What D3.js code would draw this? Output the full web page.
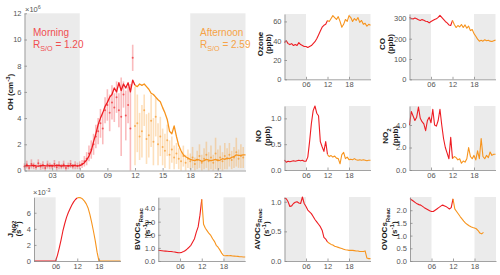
<!DOCTYPE html>
<html><head><meta charset="utf-8">
<script src="https://cdn.jsdelivr.net/npm/d3@7"></script>
<style>
body{margin:0;background:#fff}
svg{display:block}
</style></head><body>
<svg id="c" width="500" height="275"></svg>
<script>
// ---------------- DATA ----------------
const nightBands = [[0, 6], [18, 24]];
const mainXTicks = [3, 6, 9, 12, 15, 18, 21];
const smallXTicks = [6, 12, 18];

// OH smoothed line, every 0.25 h from 0 to 24 (x1e6 cm-3)
const ohLine = [
  0.36,0.38,0.35,0.37,0.40,0.36,0.34,0.37,0.39,0.36,0.35,0.38,0.37,0.36,0.40,0.38,0.36,0.37,0.35,0.38,0.36,0.39,0.37,0.36,0.38,
  0.45,0.60,0.80,1.10,1.50,2.20,2.80,3.50,4.00,4.40,4.90,5.20,5.60,5.80,6.30,6.00,6.70,6.10,6.60,6.30,6.70,6.00,6.90,6.50,
  6.40,6.60,6.50,6.60,6.40,6.20,5.90,5.80,5.60,5.40,5.25,4.80,4.40,3.90,3.00,2.80,3.40,2.60,1.90,1.50,1.20,1.05,0.95,0.85,
  0.80,0.75,0.85,0.80,0.70,0.75,0.85,0.80,0.75,0.80,0.85,0.75,0.80,0.90,0.85,0.95,0.90,1.00,1.05,1.20,1.15,1.15,1.20,1.20
];
// OH observations (points with error bars), every 0.25 h
const ohMorningPts = [
  0.30,0.45,0.20,0.50,0.35,0.25,0.55,0.30,0.40,0.20,0.45,0.35,0.30,0.50,0.25,0.40,0.30,0.45,0.20,0.35,0.50,0.30,0.40,0.35,
  0.40,0.50,0.70,0.90,1.30,1.60,2.00,2.60,3.00,3.60,3.20,4.60,5.00,4.40,5.20,4.80,5.60,4.60,4.10,5.80,4.20,5.00,3.20,8.60
];
const ohMorningErr = [
  0.25,0.30,0.20,0.35,0.25,0.20,0.30,0.25,0.30,0.20,0.30,0.25,0.20,0.30,0.25,0.30,0.20,0.30,0.20,0.25,0.30,0.20,0.30,0.25,
  0.30,0.30,0.40,0.50,0.60,0.70,0.80,0.90,1.00,1.10,1.20,1.00,1.20,1.40,1.30,1.10,1.20,1.30,3.00,1.00,1.90,1.40,3.40,1.00
];
const ohAfternoonPts = [
  3.40,3.60,2.60,3.00,4.60,2.40,2.70,3.80,2.20,4.10,2.00,2.60,1.80,1.50,2.30,1.20,1.60,1.00,1.30,0.90,0.70,1.10,0.60,0.90,
  0.70,1.00,0.50,0.80,1.10,0.60,0.90,1.20,0.70,1.00,0.60,1.30,0.80,1.00,0.70,1.10,0.90,1.20,0.80,1.00,1.40,0.90,1.10,1.00
];
const ohAfternoonErr = [
  3.00,2.20,1.80,2.00,1.20,1.90,1.70,2.00,1.80,1.50,1.60,1.50,1.40,1.30,1.20,1.10,1.00,0.90,0.80,0.80,0.70,0.80,0.60,0.70,
  0.60,0.80,0.50,0.70,0.90,0.60,0.80,1.00,0.70,0.90,0.60,1.20,0.80,0.90,0.70,1.00,0.80,0.90,0.70,0.80,1.10,0.70,0.90,0.80
];

// small panels, every 0.5 h from 0 to 24
const ozone = [38,40,37,36,37,35,36,35,38,36,35,34, 34,33,34,35,37,39,42,46,50,54,56,57,
  61,60,63,66,64,62,65,60,54,57,62,60, 66,64,60,63,61,64,59,61,57,58,55,57, 56];
const co = [305,300,297,302,298,293,290,294,291,286,285,278, 285,290,295,298,305,315,305,295,285,278,268,265,
  290,270,255,265,258,270,255,268,252,262,240,245, 225,212,198,188,192,188,195,190,192,188,186,190, 193];
const no = [0.19,0.15,0.17,0.16,0.17,0.18,0.17,0.18,0.19,0.18,0.19,0.17, 0.17,0.25,0.55,0.90,1.15,1.24,1.10,1.05,0.55,0.45,0.36,0.55,
  0.30,0.26,0.28,0.25,0.27,0.23,0.22,0.12,0.30,0.34,0.22,0.25, 0.20,0.21,0.20,0.22,0.20,0.19,0.20,0.19,0.20,0.19,0.18,0.19, 0.19];
const no2 = [4.0,5.2,4.8,4.4,4.7,5.6,4.6,4.3,4.1,3.5,4.4,4.7, 4.2,5.4,4.0,3.9,4.4,5.4,4.0,2.8,2.0,1.5,1.0,2.9,
  1.0,1.2,1.1,0.9,1.0,0.6,0.8,0.7,1.0,2.0,1.2,1.0, 1.3,0.9,1.7,1.0,2.8,1.2,1.0,1.3,1.1,1.6,1.3,1.4, 1.4];
const jno2 = [0,0,0,0,0,0,0,0,0,0,0,0, 0,0.7,1.6,2.6,3.7,4.6,5.4,6.0,6.5,6.95,7.35,7.65,
  7.85,7.9,7.85,7.7,7.45,7.1,6.6,5.8,4.8,3.7,2.5,1.1, 0.05,0,0,0,0,0,0,0,0,0,0,0, 0];
const bvoc = [0.82,0.80,0.78,0.76,0.75,0.74,0.73,0.72,0.70,0.69,0.66,0.64, 0.63,0.66,0.72,0.80,0.92,1.05,1.20,1.45,1.70,2.20,2.60,3.50,
  4.70,2.80,2.50,2.30,2.10,1.95,1.70,1.50,1.20,1.05,0.85,0.60, 0.42,0.40,0.42,0.40,0.41,0.38,0.37,0.36,0.35,0.33,0.32,0.31, 0.30];
const avoc = [1.06,1.05,1.00,0.92,0.93,0.97,0.99,1.00,0.98,0.97,1.08,0.97, 0.92,0.86,0.83,0.80,0.75,0.70,0.66,0.62,0.58,0.52,0.40,0.37,
  0.32,0.30,0.28,0.27,0.25,0.24,0.23,0.22,0.21,0.20,0.19,0.185, 0.18,0.18,0.18,0.175,0.17,0.17,0.16,0.16,0.16,0.17,0.05,0.04, 0.04];
const ovoc = [2.46,2.40,2.35,2.30,2.25,2.22,2.20,2.15,2.10,2.06,2.02,1.98, 1.95,1.95,2.00,2.05,2.10,2.15,2.20,2.18,2.15,2.10,2.05,2.10,
  2.45,2.05,1.95,1.85,1.75,1.66,1.57,1.49,1.44,1.39,1.35,1.32, 1.30,1.27,1.20,1.10,1.07,1.13,null,null,null,null,null,null, null];

// ---------------- DRAWING ----------------
const ohT = d3.range(0, 24.001, 0.25);
const amT = d3.range(0, 12, 0.25);
const pmT = d3.range(12, 24, 0.25);
const smT = d3.range(0, 24.001, 0.5);

const RED = "#ee1d23", ORANGE = "#f7941d";
const FONT = '"Liberation Sans", Arial, sans-serif';
const svg = d3.select("#c");

function makePanel(o) {
  const x = d3.scaleLinear().domain([0, 24]).range([o.l, o.r]);
  const y = d3.scaleLinear().domain([0, o.max]).range([o.b, o.t]);
  const g = svg.append("g");
  g.selectAll("rect").data(nightBands).join("rect")
    .attr("x", d => x(d[0])).attr("y", o.t)
    .attr("width", d => x(d[1]) - x(d[0])).attr("height", o.b - o.t)
    .attr("fill", "#ebebeb");
  const content = g.append("g");
  const ax = g.append("g");
  ax.append("g").attr("transform", `translate(0,${o.b})`)
    .call(d3.axisBottom(x).tickValues(o.xt).tickFormat(d3.format("02d"))
      .tickSizeInner(-2.5).tickSizeOuter(0).tickPadding(2.5));
  ax.append("g").attr("transform", `translate(${o.l},0)`)
    .call(d3.axisLeft(y).tickValues(o.yt).tickSizeInner(-2.5).tickSizeOuter(0).tickPadding(3));
  ax.selectAll(".domain,.tick line").attr("stroke", "#8a8a8a").attr("stroke-width", 0.8);
  ax.selectAll("text").attr("fill", "#555").attr("font-size", 7.5).attr("font-family", FONT);
  return { g: content, x, y };
}

function drawSeries(p, times, vals, width) {
  const pts = times.map((t, i) => [t, vals[i]]).filter(d => d[1] != null);
  const line = d3.line().x(d => p.x(d[0])).y(d => p.y(d[1]));
  p.g.append("path").attr("d", line(pts.filter(d => d[0] <= 12)))
    .attr("fill", "none").attr("stroke", RED).attr("stroke-width", width || 1.1).attr("stroke-linejoin", "round");
  p.g.append("path").attr("d", line(pts.filter(d => d[0] >= 12)))
    .attr("fill", "none").attr("stroke", ORANGE).attr("stroke-width", width || 1.1).attr("stroke-linejoin", "round");
}

function addLabel(x, y, parts) {
  const t = svg.append("text").attr("transform", `translate(${x},${y}) rotate(-90)`)
    .attr("text-anchor", "middle").attr("font-family", FONT).attr("font-size", 8)
    .attr("font-weight", "bold").attr("fill", "#1a1a1a");
  let shift = 0;
  parts.forEach(pt => {
    const ts = t.append("tspan").text(pt.t);
    const target = pt.s === "sub" ? 2.5 : pt.s === "sup" ? -3 : 0;
    ts.attr("dy", target - shift); shift = target;
    if (pt.s) ts.attr("font-size", 6);
  });
}
function addText(x, y, parts, size, color, weight) {
  const t = svg.append("text").attr("x", x).attr("y", y).attr("font-family", FONT)
    .attr("font-size", size).attr("fill", color).attr("font-weight", weight || "normal");
  let shift = 0;
  parts.forEach(pt => {
    const ts = t.append("tspan").text(pt.t);
    const target = pt.s === "sub" ? size * 0.3 : pt.s === "sup" ? -size * 0.4 : 0;
    ts.attr("dy", target - shift); shift = target;
    if (pt.s) ts.attr("font-size", size * 0.72);
  });
}

// ---- main OH panel ----
const main = makePanel({ l: 24.5, r: 245.5, t: 13.3, b: 170.5, max: 12, xt: mainXTicks, yt: [0, 2, 4, 6, 8, 10, 12] });
function drawObs(times, vals, errs, color) {
  const data = times.map((t, i) => ({ t, v: vals[i], e: errs[i] }));
  main.g.append("g").selectAll("line").data(data).join("line")
    .attr("x1", d => main.x(d.t)).attr("x2", d => main.x(d.t))
    .attr("y1", d => main.y(Math.max(0, d.v - d.e))).attr("y2", d => main.y(Math.min(12, d.v + d.e)))
    .attr("stroke", color).attr("stroke-opacity", 0.3).attr("stroke-width", 1.6);
  main.g.append("g").selectAll("circle").data(data).join("circle")
    .attr("cx", d => main.x(d.t)).attr("cy", d => main.y(d.v)).attr("r", 1)
    .attr("fill", color).attr("fill-opacity", 0.65);
}
drawObs(amT, ohMorningPts, ohMorningErr, RED);
drawObs(pmT, ohAfternoonPts, ohAfternoonErr, ORANGE);
drawSeries(main, ohT, ohLine, 1.3);
addText(33, 36, [{ t: "Morning" }], 10, "#f04e50");
addText(33, 48, [{ t: "R" }, { t: "S/O", s: "sub" }, { t: " = 1.20" }], 10, "#f04e50");
addText(200, 36, [{ t: "Afternoon" }], 10, "#f6a347");
addText(200, 48, [{ t: "R" }, { t: "S/O", s: "sub" }, { t: " = 2.59" }], 10, "#f6a347");
addText(25, 11.5, [{ t: "×10" }, { t: "6", s: "sup" }], 7.5, "#555");
addLabel(13, 92, [{ t: "OH (cm" }, { t: "-3", s: "sup" }, { t: ")" }]);

// ---- small panels ----
const pOz = makePanel({ l: 284.5, r: 370.5, t: 14, b: 79.3, max: 67.7, xt: smallXTicks, yt: [0, 20, 40, 60] });
drawSeries(pOz, smT, ozone);
addLabel(262.5, 44, [{ t: "Ozone" }]); addLabel(271, 44, [{ t: "(ppb)" }]);

const pCo = makePanel({ l: 409.5, r: 495.5, t: 14, b: 79.3, max: 321.7, xt: smallXTicks, yt: [0, 100, 200, 300] });
drawSeries(pCo, smT, co);
addLabel(385, 44, [{ t: "CO" }]); addLabel(393, 44, [{ t: "(ppb)" }]);

const pNo = makePanel({ l: 284.5, r: 370.5, t: 106, b: 170, max: 1.24, xt: smallXTicks, yt: [0, 0.5, 1] });
drawSeries(pNo, smT, no);
addLabel(261, 136, [{ t: "NO" }]); addLabel(270, 136, [{ t: "(ppb)" }]);

const pNo2 = makePanel({ l: 409.5, r: 495.5, t: 106, b: 170, max: 5.69, xt: smallXTicks, yt: [0, 2, 4] });
drawSeries(pNo2, smT, no2);
addLabel(388, 136, [{ t: "NO" }, { t: "2", s: "sub" }]); addLabel(398, 136, [{ t: "(ppb)" }]);

const pJ = makePanel({ l: 34, r: 120.5, t: 197.3, b: 261, max: 7.92, xt: smallXTicks, yt: [0, 2, 4, 6] });
drawSeries(pJ, smT, jno2);
addText(33, 195, [{ t: "×10" }, { t: "-3", s: "sup" }], 7.5, "#555");
addLabel(13, 229, [{ t: "J" }, { t: "NO2", s: "sub" }]); addLabel(21, 229, [{ t: "(s" }, { t: "-1", s: "sup" }, { t: ")" }]);

const pB = makePanel({ l: 158.3, r: 245.2, t: 197.3, b: 261, max: 4.86, xt: smallXTicks, yt: [0, 1, 2, 3, 4] });
drawSeries(pB, smT, bvoc);
addLabel(140, 229, [{ t: "BVOCs" }, { t: "Reac", s: "sub" }]); addLabel(149.5, 229, [{ t: "(s" }, { t: "-1", s: "sup" }, { t: ")" }]);

const pA = makePanel({ l: 284.5, r: 370.5, t: 197, b: 261, max: 1.08, xt: smallXTicks, yt: [0, 0.5, 1] });
drawSeries(pA, smT, avoc);
addLabel(259.5, 229, [{ t: "AVOCs" }, { t: "Reac", s: "sub" }]); addLabel(268.5, 229, [{ t: "(s" }, { t: "-1", s: "sup" }, { t: ")" }]);

const pO = makePanel({ l: 410, r: 496, t: 197, b: 261, max: 2.52, xt: smallXTicks, yt: [0, 0.5, 1, 1.5, 2] });
drawSeries(pO, smT, ovoc);
addLabel(387, 229, [{ t: "OVOCs" }, { t: "Reac", s: "sub" }]); addLabel(396.5, 229, [{ t: "(s" }, { t: "-1", s: "sup" }, { t: ")" }]);
</script>
</body></html>
